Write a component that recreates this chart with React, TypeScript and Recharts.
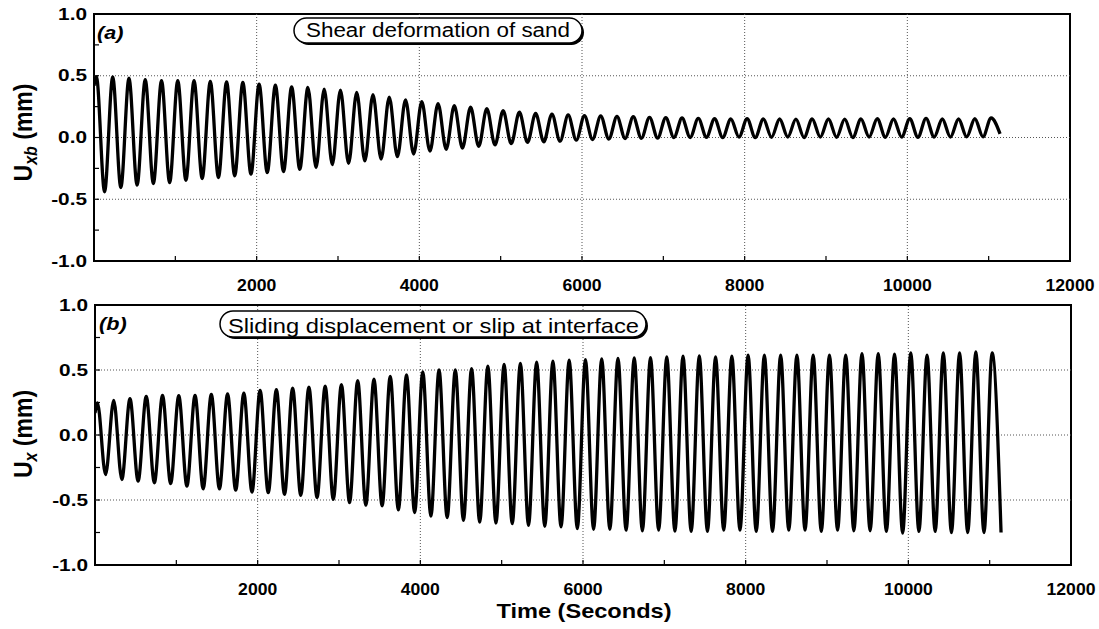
import React from 'react';
import { LineChart, Line, XAxis, YAxis, ReferenceLine, ReferenceArea } from 'recharts';

// ---- data ----
const startTime = 0;
const startA = 0.42;
const startB = 0.17;

const peakTimes = [
  30, 230, 430, 630, 830, 1030, 1230, 1430, 1630, 1830,
  2030, 2230, 2430, 2630, 2830, 3030, 3230, 3430, 3630, 3830,
  4030, 4230, 4430, 4630, 4830, 5030, 5230, 5430, 5630, 5830,
  6030, 6230, 6430, 6630, 6830, 7030, 7230, 7430, 7630, 7830,
  8030, 8230, 8430, 8630, 8830, 9030, 9230, 9430, 9630, 9830,
  10030, 10230, 10430, 10630, 10830, 11030,
];
const troughTimes = [
  130, 330, 530, 730, 930, 1130, 1330, 1530, 1730, 1930,
  2130, 2330, 2530, 2730, 2930, 3130, 3330, 3530, 3730, 3930,
  4130, 4330, 4530, 4730, 4930, 5130, 5330, 5530, 5730, 5930,
  6130, 6330, 6530, 6730, 6930, 7130, 7330, 7530, 7730, 7930,
  8130, 8330, 8530, 8730, 8930, 9130, 9330, 9530, 9730, 9930,
  10130, 10330, 10530, 10730, 10930, 11140,
];

const peaksA = [
  0.49, 0.49, 0.48, 0.468, 0.46, 0.46, 0.46, 0.454, 0.451, 0.446,
  0.432, 0.424, 0.41, 0.405, 0.392, 0.384, 0.365, 0.346, 0.327, 0.305,
  0.29, 0.275, 0.258, 0.245, 0.234, 0.217, 0.205, 0.195, 0.19, 0.182,
  0.176, 0.174, 0.17, 0.168, 0.163, 0.16, 0.158, 0.155, 0.152, 0.15,
  0.152, 0.15, 0.15, 0.148, 0.15, 0.15, 0.148, 0.15, 0.152, 0.15,
  0.152, 0.155, 0.15, 0.15, 0.152, 0.158,
];
const troughsA = [
  -0.44, -0.405, -0.386, -0.373, -0.365, -0.346, -0.332, -0.324, -0.311, -0.297,
  -0.284, -0.276, -0.257, -0.243, -0.22, -0.21, -0.19, -0.175, -0.155, -0.134,
  -0.11, -0.095, -0.085, -0.072, -0.06, -0.05, -0.04, -0.035, -0.03, -0.022,
  -0.016, -0.012, -0.008, -0.006, -0.005, 0.0, 0.0, 0.002, 0.0, 0.003,
  0.0, 0.002, 0.004, 0.0, 0.003, 0.002, 0.0, 0.004, 0.002, 0.003,
  0.002, 0.004, 0.003, 0.005, 0.006, 0.03,
];

const peaksB = [
  0.246, 0.266, 0.279, 0.297, 0.305, 0.302, 0.305, 0.312, 0.317, 0.322,
  0.343, 0.348, 0.36, 0.368, 0.376, 0.388, 0.419, 0.43, 0.45, 0.462,
  0.485, 0.5, 0.5, 0.51, 0.53, 0.543, 0.55, 0.56, 0.568, 0.576,
  0.58, 0.586, 0.59, 0.593, 0.595, 0.6, 0.606, 0.608, 0.6, 0.606,
  0.614, 0.614, 0.614, 0.614, 0.614, 0.614, 0.614, 0.626, 0.626, 0.621,
  0.631, 0.614, 0.631, 0.631, 0.64, 0.631,
];
const troughsB = [
  -0.305, -0.343, -0.355, -0.368, -0.373, -0.393, -0.414, -0.414, -0.424, -0.439,
  -0.444, -0.457, -0.464, -0.482, -0.495, -0.52, -0.54, -0.545, -0.576, -0.596,
  -0.624, -0.636, -0.657, -0.67, -0.677, -0.682, -0.695, -0.702, -0.707, -0.72,
  -0.725, -0.725, -0.732, -0.737, -0.732, -0.74, -0.742, -0.742, -0.732, -0.732,
  -0.742, -0.742, -0.732, -0.732, -0.742, -0.732, -0.737, -0.737, -0.742, -0.755,
  -0.742, -0.742, -0.75, -0.75, -0.75, -0.75,
];

const xTicks = [0, 1000, 2000, 3000, 4000, 5000, 6000, 7000, 8000, 9000, 10000, 11000, 12000];
const xTickLabels = ['', '', '2000', '', '4000', '', '6000', '', '8000', '', '10000', '', '12000'];
const yTicks = [-1, -0.75, -0.5, -0.25, 0, 0.25, 0.5, 0.75, 1];
const yTickLabels = ['-1.0', '', '-0.5', '', '0.0', '', '0.5', '', '1.0'];
const xGrid = [2000, 4000, 6000, 8000, 10000];
const yGrid = [-0.5, 0, 0.5];

// table for the library
const data: { t: number; a: number; b: number }[] = [{ t: startTime, a: startA, b: startB }];
peakTimes.forEach((t, k) => {
  data.push({ t, a: peaksA[k], b: peaksB[k] });
  data.push({ t: troughTimes[k], a: troughsA[k], b: troughsB[k] });
});

const FONT = '"Liberation Sans", Arial, Helvetica, sans-serif';
const X_MARGIN = 25;
const Y_MARGIN = 7;

function XTick(props: any) {
  const { x, y, payload } = props;
  const i = xTicks.indexOf(payload.value);
  const label = i >= 0 ? xTickLabels[i] : '';
  const axisY = y - X_MARGIN;
  return (
    <g>
      <line x1={x} x2={x} y1={axisY} y2={axisY - 5} stroke="#000" strokeWidth={1.2} />
      {label ? (
        <text
          transform={`translate(${x},${y + 5}) scale(1.1,1)`}
          textAnchor="middle"
          fontFamily={FONT}
          fontWeight="bold"
          fontSize={16}
          fill="#000"
        >
          {label}
        </text>
      ) : null}
    </g>
  );
}

function YTick(props: any) {
  const { x, y, payload } = props;
  const i = yTicks.indexOf(payload.value);
  const label = i >= 0 ? yTickLabels[i] : '';
  const axisX = x + Y_MARGIN;
  return (
    <g>
      <line x1={axisX} x2={axisX + 5} y1={y} y2={y} stroke="#000" strokeWidth={1.2} />
      {label ? (
        <text
          transform={`translate(${x},${y + 5.5}) scale(1.3,1)`}
          textAnchor="end"
          fontFamily={FONT}
          fontWeight="bold"
          fontSize={16}
          fill="#000"
        >
          {label}
        </text>
      ) : null}
    </g>
  );
}

function Panel(props: { dataKey: string; height: number; margin: any; yAxisWidth: number }) {
  const { dataKey, height, margin, yAxisWidth } = props;
  return (
    <LineChart width={1099} height={height} data={data} margin={margin}>
      <XAxis
        type="number"
        dataKey="t"
        domain={[0, 12000]}
        ticks={xTicks}
        interval={0}
        tickLine={false}
        axisLine={false}
        tickSize={0}
        tickMargin={X_MARGIN}
        tick={XTick}
        height={30}
        allowDataOverflow
      />
      <YAxis
        type="number"
        domain={[-1, 1]}
        ticks={yTicks}
        interval={0}
        tickLine={false}
        axisLine={false}
        tickSize={0}
        tickMargin={Y_MARGIN}
        tick={YTick}
        width={yAxisWidth}
        allowDataOverflow
      />
      {xGrid.map((v) => (
        <ReferenceLine key={'gx' + v} x={v} stroke="#555" strokeDasharray="1 2" strokeWidth={1} />
      ))}
      {yGrid.map((v) => (
        <ReferenceLine key={'gy' + v} y={v} stroke="#555" strokeDasharray="1 2" strokeWidth={1} />
      ))}
      <Line
        type="monotone"
        dataKey={dataKey}
        stroke="#000"
        strokeWidth={3.3}
        dot={false}
        activeDot={false}
        isAnimationActive={false}
      />
      <ReferenceArea x1={0} x2={12000} y1={-1} y2={1} fill="none" stroke="#000" strokeWidth={2} />
    </LineChart>
  );
}

function Overlay() {
  return (
    <svg
      width={1099}
      height={629}
      style={{ position: 'absolute', left: 0, top: 0, pointerEvents: 'none' }}
    >
      {/* panel (a) annotations */}
      <text
        transform="translate(97,38.6) scale(1.2,1)"
        fontFamily={FONT}
        fontWeight="bold"
        fontStyle="italic"
        fontSize={18}
        fill="#000"
      >
        (a)
      </text>
      <rect x={296} y={20} width={288} height={25} rx={12.5} fill="#000" />
      <rect x={294} y={18} width={288} height={25} rx={12.5} fill="#fff" stroke="#000" strokeWidth={1.5} />
      <text
        x={306}
        y={37.3}
        textLength={264}
        lengthAdjust="spacingAndGlyphs"
        fontFamily={FONT}
        fontSize={20}
        fill="#000"
      >
        Shear deformation of sand
      </text>

      {/* panel (b) annotations */}
      <text
        transform="translate(99,330) scale(1.2,1)"
        fontFamily={FONT}
        fontWeight="bold"
        fontStyle="italic"
        fontSize={18}
        fill="#000"
      >
        (b)
      </text>
      <rect x={222} y={313} width={426} height={26} rx={13} fill="#000" />
      <rect x={220} y={311} width={426} height={26} rx={13} fill="#fff" stroke="#000" strokeWidth={1.5} />
      <text
        x={228}
        y={332.5}
        textLength={411}
        lengthAdjust="spacingAndGlyphs"
        fontFamily={FONT}
        fontSize={21}
        fill="#000"
      >
        Sliding displacement or slip at interface
      </text>

      {/* axis titles */}
      <text
        transform="translate(31.5,132.5) scale(1.15,1) rotate(-90)"
        textAnchor="middle"
        fontFamily={FONT}
        fontWeight="bold"
        fontSize={23}
        fill="#000"
      >
        U
        <tspan fontSize={16} fontStyle="italic" dy={5}>xb</tspan>
        <tspan dy={-5}> (mm)</tspan>
      </text>
      <text
        transform="translate(31.5,434) scale(1.15,1) rotate(-90)"
        textAnchor="middle"
        fontFamily={FONT}
        fontWeight="bold"
        fontSize={23}
        fill="#000"
      >
        U
        <tspan fontSize={16} fontStyle="italic" dy={5}>x</tspan>
        <tspan dy={-5}> (mm)</tspan>
      </text>
      <text
        x={584}
        y={618}
        textAnchor="middle"
        textLength={175}
        lengthAdjust="spacingAndGlyphs"
        fontFamily={FONT}
        fontWeight="bold"
        fontSize={21}
        fill="#000"
      >
        Time (Seconds)
      </text>
    </svg>
  );
}

export default function App() {
  return (
    <div style={{ position: 'absolute', left: 0, top: 0, width: 1099, height: 629, background: '#fff' }}>
      <div style={{ position: 'absolute', left: 0, top: 0 }}>
        <Panel dataKey="a" height={300} margin={{ top: 14, right: 29, left: 0, bottom: 9 }} yAxisWidth={94} />
      </div>
      <div style={{ position: 'absolute', left: 0, top: 290 }}>
        <Panel dataKey="b" height={339} margin={{ top: 15, right: 28, left: 0, bottom: 34 }} yAxisWidth={95} />
      </div>
      <Overlay />
    </div>
  );
}
